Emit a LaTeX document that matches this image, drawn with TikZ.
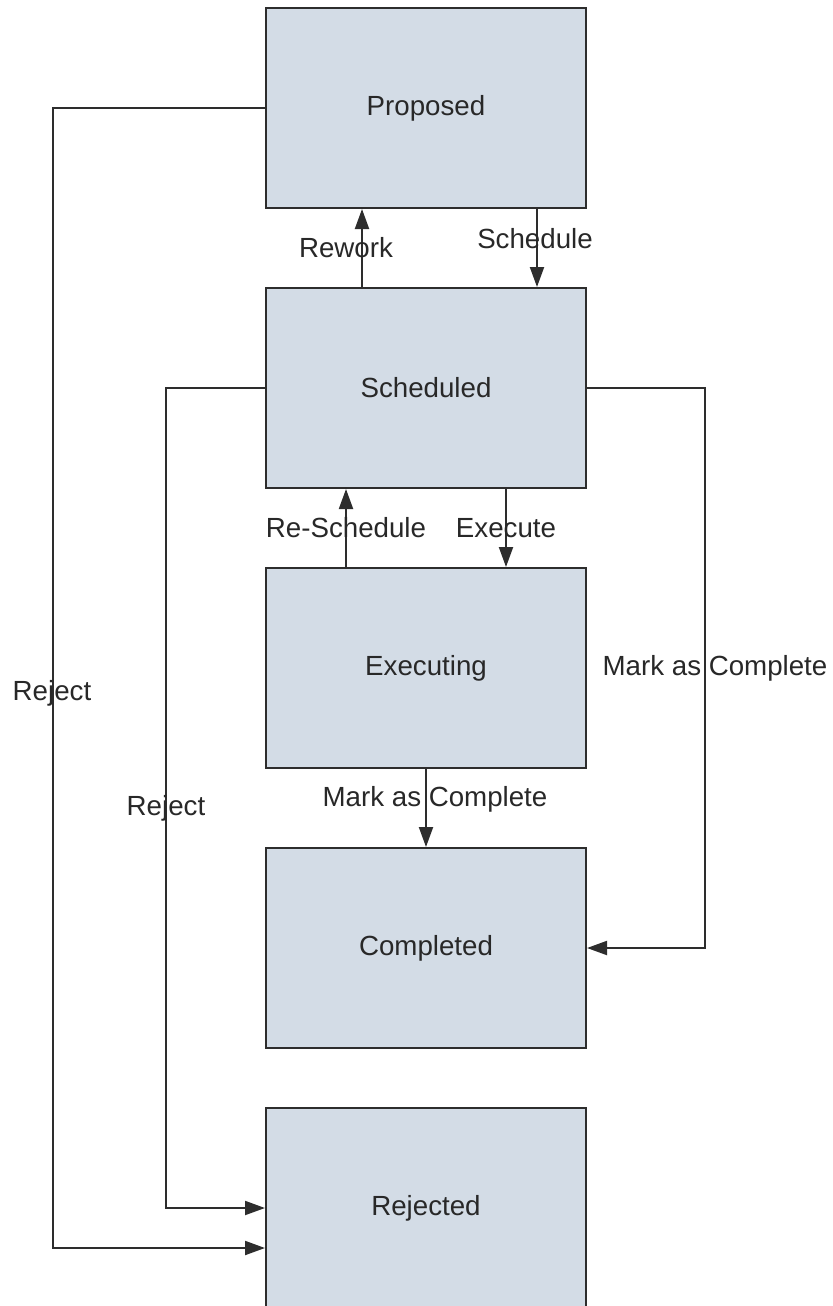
\documentclass[tikz,border=0pt]{standalone}
\usepackage{fontspec}
\setmainfont{Liberation Sans}
\usetikzlibrary{arrows.meta}
\definecolor{boxfill}{RGB}{211,220,230}
\definecolor{boxline}{RGB}{45,45,45}
\definecolor{txt}{RGB}{40,40,40}
\tikzset{
  state/.style={draw=boxline, line width=1pt, fill=boxfill, minimum width=160pt, minimum height=100pt, inner sep=0pt, text=txt, font=\fontsize{13.85}{16}\selectfont},
  lbl/.style={text=txt, inner sep=0pt, yshift=-1pt, font=\fontsize{13.85}{16}\selectfont},
  conn/.style={draw=boxline, line width=1pt, -{Triangle[length=10pt,width=7pt]}},
}
\begin{document}
\begin{tikzpicture}[x=0.5pt,y=-0.5pt]
\clip (0,0) rectangle (832,1306);
\node[state] (prop) at (426,108) {\raisebox{-2pt}{Proposed}};
\node[state] (sched) at (426,388) {\raisebox{-2pt}{Scheduled}};
\node[state] (exec) at (426,668) {\raisebox{-2pt}{Executing}};
\node[state] (comp) at (426,948) {\raisebox{-2pt}{Completed}};
\node[state] (rej) at (426,1208) {\raisebox{-2pt}{Rejected}};

% Rework / Schedule
\draw[conn] ([xshift=-32pt]sched.north) -- ([xshift=-32pt]prop.south);
\draw[conn] ([xshift=55.5pt]prop.south) -- ([xshift=55.5pt]sched.north);
% Re-Schedule / Execute
\draw[conn] ([xshift=-40pt]exec.north) -- ([xshift=-40pt]sched.south);
\draw[conn] ([xshift=40pt]sched.south) -- ([xshift=40pt]exec.north);
% Mark as complete (exec -> comp)
\draw[conn] (exec.south) -- (comp.north);

% Scheduled -> Completed (right side)
\coordinate (rc1) at (705,388);
\coordinate (rc2) at (705,948);
\draw[conn] (sched.east) -- (rc1) -- (rc2) -- (comp.east);

% Scheduled -> Rejected
\coordinate (l1) at (166,388);
\coordinate (l2) at (166,1208);
\draw[conn] (sched.west) -- (l1) -- (l2) -- (rej.west);

% Proposed -> Rejected
\coordinate (o1) at (53,108);
\coordinate (o2) at (53,1248);
\draw[conn] (prop.west) -- (o1) -- (o2) -- ([yshift=-20pt]rej.west);

% labels
\node[lbl] (lrework) at (346,246) {Rework};
\node[lbl] (lsched) at (535,237) {Schedule};
\node[lbl] (lresched) at (346,526) {Re-Schedule};
\node[lbl] (lexec) at (506,526) {Execute};
\node[lbl] (lmark1) at (435,797) {Mark as Complete};
\node[lbl] (lmark2) at (715,666) {Mark as Complete};
\node[lbl] (lrej1) at (166,806) {Reject};
\node[lbl] (lrej2) at (52,691) {Reject};
\end{tikzpicture}
\end{document}
